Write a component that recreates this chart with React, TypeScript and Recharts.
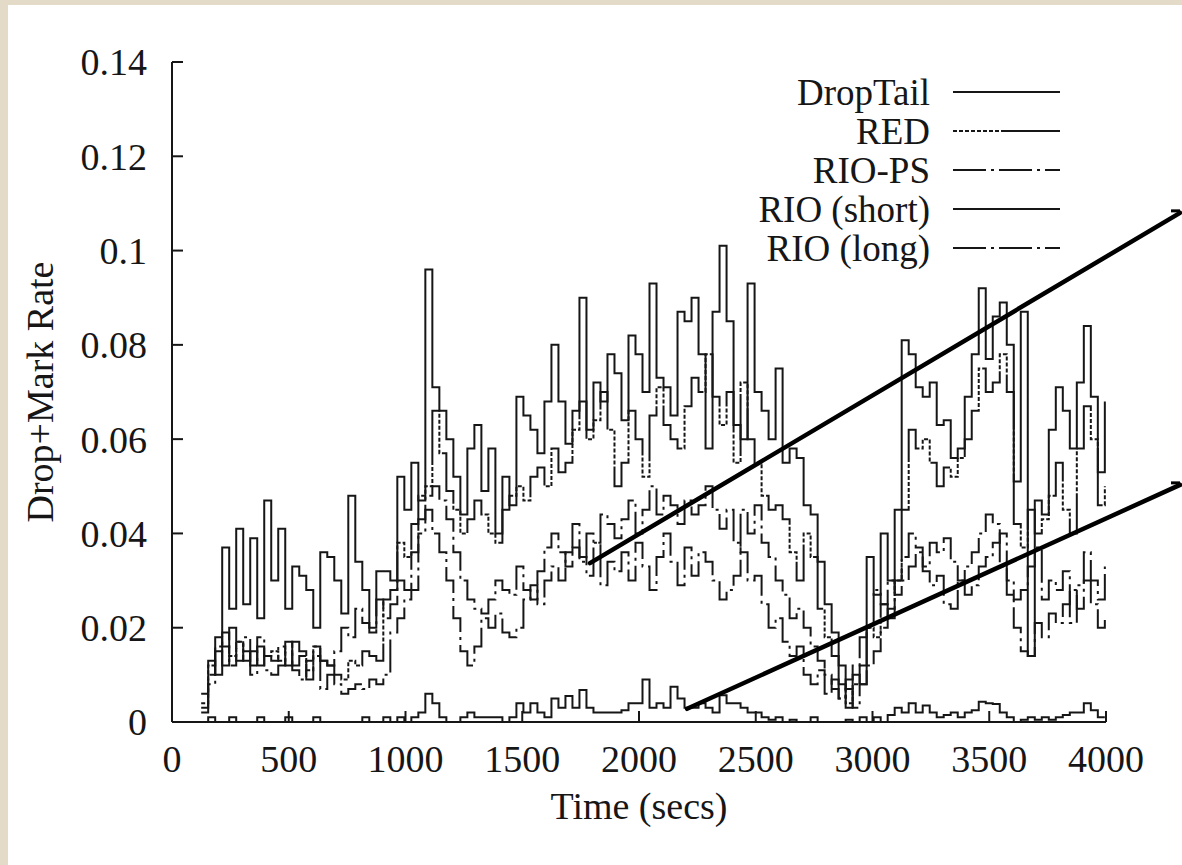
import React from 'react';
import { LineChart, Line, XAxis, YAxis, ReferenceLine } from 'recharts';

// ---- data (30 s bins) ----
const TIMES = [
  125, 155, 185, 215, 245, 275, 305, 335, 365, 395,
  425, 455, 485, 515, 545, 575, 605, 635, 665, 695,
  725, 755, 785, 815, 845, 875, 905, 935, 965, 995,
  1025, 1055, 1085, 1115, 1145, 1175, 1205, 1235, 1265, 1295,
  1325, 1355, 1385, 1415, 1445, 1475, 1505, 1535, 1565, 1595,
  1625, 1655, 1685, 1715, 1745, 1775, 1805, 1835, 1865, 1895,
  1925, 1955, 1985, 2015, 2045, 2075, 2105, 2135, 2165, 2195,
  2225, 2255, 2285, 2315, 2345, 2375, 2405, 2435, 2465, 2495,
  2525, 2555, 2585, 2615, 2645, 2675, 2705, 2735, 2765, 2795,
  2825, 2855, 2885, 2915, 2945, 2975, 3005, 3035, 3065, 3095,
  3125, 3155, 3185, 3215, 3245, 3275, 3305, 3335, 3365, 3395,
  3425, 3455, 3485, 3515, 3545, 3575, 3605, 3635, 3665, 3695,
  3725, 3755, 3785, 3815, 3845, 3875, 3905, 3935, 3965, 3995,
];

const DROPTAIL = [
  0.006, 0.013, 0.010, 0.037, 0.024, 0.041, 0.025, 0.039, 0.022, 0.047,
  0.030, 0.041, 0.024, 0.033, 0.031, 0.028, 0.020, 0.036, 0.035, 0.030,
  0.023, 0.048, 0.034, 0.028, 0.020, 0.032, 0.032, 0.030, 0.052, 0.045,
  0.055, 0.047, 0.096, 0.071, 0.066, 0.060, 0.052, 0.044, 0.058, 0.063,
  0.049, 0.058, 0.040, 0.052, 0.046, 0.069, 0.065, 0.062, 0.057, 0.068,
  0.080, 0.068, 0.059, 0.066, 0.090, 0.062, 0.072, 0.068, 0.078, 0.074,
  0.064, 0.082, 0.078, 0.070, 0.093, 0.073, 0.071, 0.065, 0.087, 0.085,
  0.090, 0.078, 0.058, 0.087, 0.101, 0.085, 0.063, 0.060, 0.093, 0.070,
  0.066, 0.060, 0.075, 0.055, 0.058, 0.056, 0.046, 0.044, 0.034, 0.025,
  0.019, 0.012, 0.003, 0.010, 0.008, 0.035, 0.027, 0.040, 0.030, 0.045,
  0.081, 0.078, 0.071, 0.069, 0.072, 0.063, 0.064, 0.056, 0.058, 0.069,
  0.078, 0.092, 0.077, 0.086, 0.089, 0.080, 0.051, 0.087, 0.014, 0.047,
  0.044, 0.062, 0.071, 0.066, 0.058, 0.072, 0.084, 0.069, 0.053, 0.068,
];

const RED = [
  0.004, 0.012, 0.018, 0.016, 0.014, 0.017, 0.013, 0.015, 0.012, 0.014,
  0.015, 0.013, 0.017, 0.012, 0.014, 0.011, 0.016, 0.013, 0.012, 0.010,
  0.009, 0.013, 0.012, 0.015, 0.014, 0.013, 0.026, 0.028, 0.038, 0.035,
  0.042, 0.048, 0.050, 0.066, 0.057, 0.049, 0.045, 0.040, 0.043, 0.047,
  0.044, 0.040, 0.038, 0.045, 0.048, 0.050, 0.047, 0.052, 0.054, 0.050,
  0.058, 0.053, 0.055, 0.062, 0.068, 0.060, 0.064, 0.070, 0.062, 0.050,
  0.055, 0.066, 0.060, 0.052, 0.065, 0.071, 0.063, 0.060, 0.058, 0.067,
  0.073, 0.070, 0.078, 0.069, 0.063, 0.070, 0.055, 0.072, 0.060, 0.055,
  0.048, 0.045, 0.046, 0.043, 0.036, 0.030, 0.040, 0.035, 0.024, 0.018,
  0.014, 0.008, 0.004, 0.008, 0.012, 0.020, 0.018, 0.025, 0.022, 0.030,
  0.045, 0.062, 0.058, 0.060, 0.055, 0.050, 0.054, 0.052, 0.056, 0.060,
  0.066, 0.075, 0.070, 0.072, 0.078, 0.070, 0.042, 0.037, 0.045, 0.040,
  0.043, 0.048, 0.055, 0.045, 0.040, 0.058, 0.067, 0.060, 0.046, 0.050,
];

const RIO_PS = [
  0.003, 0.008, 0.015, 0.019, 0.012, 0.017, 0.015, 0.010, 0.018, 0.014,
  0.013, 0.016, 0.012, 0.017, 0.015, 0.009, 0.014, 0.013, 0.012, 0.015,
  0.020, 0.018, 0.024, 0.021, 0.019, 0.026, 0.022, 0.025, 0.030, 0.028,
  0.036, 0.043, 0.048, 0.050, 0.047, 0.043, 0.036, 0.030, 0.026, 0.024,
  0.023, 0.026, 0.030, 0.028, 0.027, 0.033, 0.028, 0.026, 0.032, 0.037,
  0.040, 0.036, 0.033, 0.042, 0.035, 0.031, 0.038, 0.029, 0.034, 0.032,
  0.036, 0.030, 0.038, 0.033, 0.028, 0.035, 0.040, 0.034, 0.029, 0.037,
  0.031, 0.036, 0.034, 0.030, 0.026, 0.028, 0.031, 0.045, 0.040, 0.046,
  0.038, 0.035, 0.030, 0.027, 0.022, 0.024, 0.020, 0.016, 0.013, 0.010,
  0.007, 0.005, 0.009, 0.012, 0.018, 0.020, 0.028, 0.025, 0.030, 0.027,
  0.030, 0.033, 0.036, 0.032, 0.029, 0.031, 0.025, 0.024, 0.030, 0.027,
  0.029, 0.033, 0.035, 0.038, 0.040, 0.030, 0.026, 0.028, 0.033, 0.037,
  0.026, 0.030, 0.028, 0.032, 0.021, 0.029, 0.036, 0.030, 0.026, 0.033,
];

const RIO_SHORT = [
  0.000, 0.001, 0.000, 0.000, 0.001, 0.000, 0.000, 0.000, 0.001, 0.000,
  0.000, 0.000, 0.001, 0.000, 0.000, 0.000, 0.001, 0.000, 0.000, 0.000,
  0.000, 0.000, 0.000, 0.001, 0.000, 0.000, 0.001, 0.000, 0.001, 0.000,
  0.001, 0.002, 0.006, 0.004, 0.001, 0.000, 0.000, 0.001, 0.002, 0.001,
  0.001, 0.001, 0.001, 0.000, 0.001, 0.004, 0.002, 0.004, 0.002, 0.001,
  0.005, 0.003, 0.0055, 0.003, 0.0068, 0.003, 0.002, 0.002, 0.002, 0.002,
  0.0025, 0.004, 0.004, 0.009, 0.003, 0.004, 0.003, 0.0075, 0.005, 0.003,
  0.003, 0.004, 0.003, 0.002, 0.0057, 0.004, 0.004, 0.003, 0.002, 0.002,
  0.001, 0.0005, 0.001, 0.000, 0.0005, 0.000, 0.000, 0.001, 0.000, 0.000,
  0.000, 0.000, 0.0005, 0.000, 0.001, 0.000, 0.001, 0.000, 0.0015, 0.003,
  0.002, 0.004, 0.002, 0.0035, 0.002, 0.001, 0.0015, 0.002, 0.001, 0.002,
  0.0025, 0.0043, 0.004, 0.0038, 0.002, 0.001, 0.000, 0.0005, 0.001, 0.0005,
  0.001, 0.0005, 0.001, 0.0015, 0.002, 0.002, 0.004, 0.0025, 0.001, 0.001,
];

const RIO_LONG = [
  0.002, 0.010, 0.016, 0.012, 0.020, 0.013, 0.018, 0.012, 0.016, 0.011,
  0.010, 0.012, 0.015, 0.011, 0.009, 0.013, 0.016, 0.007, 0.010, 0.008,
  0.006, 0.007, 0.008, 0.007, 0.009, 0.008, 0.010, 0.019, 0.022, 0.026,
  0.028, 0.040, 0.045, 0.040, 0.036, 0.030, 0.022, 0.015, 0.012, 0.016,
  0.022, 0.020, 0.023, 0.019, 0.018, 0.020, 0.026, 0.029, 0.025, 0.030,
  0.033, 0.030, 0.036, 0.037, 0.034, 0.040, 0.038, 0.044, 0.042, 0.039,
  0.043, 0.047, 0.040, 0.045, 0.050, 0.044, 0.048, 0.046, 0.042, 0.047,
  0.044, 0.046, 0.050, 0.045, 0.041, 0.045, 0.038, 0.036, 0.030, 0.031,
  0.025, 0.020, 0.022, 0.017, 0.014, 0.016, 0.010, 0.008, 0.011, 0.006,
  0.009, 0.005, 0.007, 0.003, 0.008, 0.012, 0.015, 0.020, 0.024, 0.030,
  0.035, 0.040, 0.037, 0.033, 0.038, 0.036, 0.039, 0.034, 0.030, 0.033,
  0.036, 0.040, 0.044, 0.042, 0.033, 0.027, 0.020, 0.015, 0.014, 0.021,
  0.018, 0.023, 0.021, 0.025, 0.028, 0.024, 0.030, 0.025, 0.020, 0.022,
];

const X_TICKS = [0, 500, 1000, 1500, 2000, 2500, 3000, 3500, 4000];
const Y_TICKS = [0, 0.02, 0.04, 0.06, 0.08, 0.1, 0.12, 0.14];

const ARROW_UPPER = [{ x: 1790, y: 0.0337 }, { x: 4317, y: 0.108 }];
const ARROW_LOWER = [{ x: 2206, y: 0.0028 }, { x: 4317, y: 0.0503 }];

// ---- styling ----
const INK = '#161616';
const FONT = '"Liberation Serif", "Times New Roman", serif';
const RED_DASH = '4 2 4 2 4 2 4 2 4 2 4 2 4 2 4 2 58 0';
const DASH_DOT = '33 5 3 5';

const SERIES = [
  { key: 'dropTail', name: 'DropTail', values: DROPTAIL, dash: undefined as string | undefined },
  { key: 'red', name: 'RED', values: RED, dash: RED_DASH },
  { key: 'rioPs', name: 'RIO-PS', values: RIO_PS, dash: DASH_DOT },
  { key: 'rioShort', name: 'RIO (short)', values: RIO_SHORT, dash: undefined },
  { key: 'rioLong', name: 'RIO (long)', values: RIO_LONG, dash: DASH_DOT },
];

const chartData = TIMES.map((t, i) => {
  const row: Record<string, number> = { t };
  SERIES.forEach((s) => {
    row[s.key] = s.values[i];
  });
  return row;
});

const W = 1182;
const H = 865;

const tickStyle = { fontFamily: FONT, fontSize: 38, fill: INK };

const yLabel = (props: any) => {
  const vb = props && props.viewBox ? props.viewBox : { x: 0, y: 62, width: 172, height: 660 };
  const cx = vb.x + 40;
  const cy = vb.y + vb.height / 2;
  return (
    <text
      x={cx}
      y={cy}
      transform={`rotate(-90 ${cx} ${cy})`}
      textAnchor="middle"
      dominantBaseline="central"
      fontFamily={FONT}
      fontSize={38}
      fill={INK}
    >
      Drop+Mark Rate
    </text>
  );
};

const xLabel = (props: any) => {
  const vb = props && props.viewBox ? props.viewBox : { x: 172, y: 722, width: 934, height: 143 };
  const cx = vb.x + vb.width / 2;
  return (
    <text x={cx} y={vb.y + 97} textAnchor="middle" fontFamily={FONT} fontSize={38} fill={INK}>
      Time (secs)
    </text>
  );
};

const arrowShape = (p: any) => {
  const { x1, y1, x2, y2 } = p;
  if ([x1, y1, x2, y2].some((v) => typeof v !== 'number' || isNaN(v))) return <g />;
  return (
    <g>
      <line x1={x1} y1={y1} x2={x2} y2={y2} stroke="#000" strokeWidth={4.5} strokeLinecap="round" />
      <line x1={x2 - 9} y1={y2 - 2} x2={x2} y2={y2 - 2} stroke="#000" strokeWidth={3} />
    </g>
  );
};

const LEGEND_TOP = 92;
const LEGEND_STEP = 39;

const LegendOverlay = () => (
  <svg
    width={W}
    height={H}
    style={{ position: 'absolute', left: 0, top: 0, pointerEvents: 'none' }}
  >
    {SERIES.map((s, i) => {
      const y = LEGEND_TOP + i * LEGEND_STEP;
      return (
        <g key={s.key}>
          <text
            x={930}
            y={y + 13}
            textAnchor="end"
            fontFamily={FONT}
            fontSize={37}
            fill={INK}
          >
            {s.name}
          </text>
          <line
            x1={953}
            y1={y}
            x2={1060}
            y2={y}
            stroke={INK}
            strokeWidth={2}
            strokeDasharray={s.dash}
          />
        </g>
      );
    })}
  </svg>
);

export default function App() {
  return (
    <div
      style={{
        position: 'absolute',
        left: 0,
        top: 0,
        width: W,
        height: H,
        background: '#e4dac8',
        overflow: 'hidden',
      }}
    >
      <div
        style={{
          position: 'absolute',
          left: 8,
          top: 5,
          width: W - 8,
          height: H - 5,
          background: '#ffffff',
        }}
      />
      <div style={{ position: 'absolute', left: 0, top: 0 }}>
        <LineChart
          width={W}
          height={H}
          data={chartData}
          margin={{ top: 62, right: 76, bottom: 0, left: 0 }}
        >
          <XAxis
            dataKey="t"
            type="number"
            domain={[0, 4000]}
            ticks={X_TICKS}
            interval={0}
            height={143}
            tickSize={-11}
            tickMargin={34}
            tick={tickStyle}
            axisLine={{ stroke: INK, strokeWidth: 2 }}
            tickLine={{ stroke: INK, strokeWidth: 2 }}
            label={xLabel}
          />
          <XAxis
            xAxisId="top"
            orientation="top"
            type="number"
            domain={[0, 4000]}
            ticks={X_TICKS}
            interval={0}
            height={0}
            tickSize={-11}
            tick={false}
            axisLine={{ stroke: INK, strokeWidth: 2 }}
            tickLine={{ stroke: INK, strokeWidth: 2 }}
          />
          <YAxis
            type="number"
            domain={[0, 0.14]}
            ticks={Y_TICKS}
            interval={0}
            width={172}
            tickSize={-11}
            tickMargin={36}
            tick={tickStyle}
            axisLine={{ stroke: INK, strokeWidth: 2 }}
            tickLine={{ stroke: INK, strokeWidth: 2 }}
            label={yLabel}
          />
          <YAxis
            yAxisId="right"
            orientation="right"
            type="number"
            domain={[0, 0.14]}
            ticks={Y_TICKS}
            interval={0}
            width={0}
            tickSize={-11}
            tick={false}
            axisLine={{ stroke: INK, strokeWidth: 2 }}
            tickLine={{ stroke: INK, strokeWidth: 2 }}
          />
          {SERIES.map((s) => (
            <Line
              key={s.key}
              dataKey={s.key}
              name={s.name}
              type="stepAfter"
              stroke={INK}
              strokeWidth={2}
              strokeDasharray={s.dash}
              dot={false}
              activeDot={false}
              isAnimationActive={false}
            />
          ))}
          <ReferenceLine segment={ARROW_UPPER} ifOverflow="visible" shape={arrowShape} />
          <ReferenceLine segment={ARROW_LOWER} ifOverflow="visible" shape={arrowShape} />
        </LineChart>
      </div>
      <LegendOverlay />
    </div>
  );
}
